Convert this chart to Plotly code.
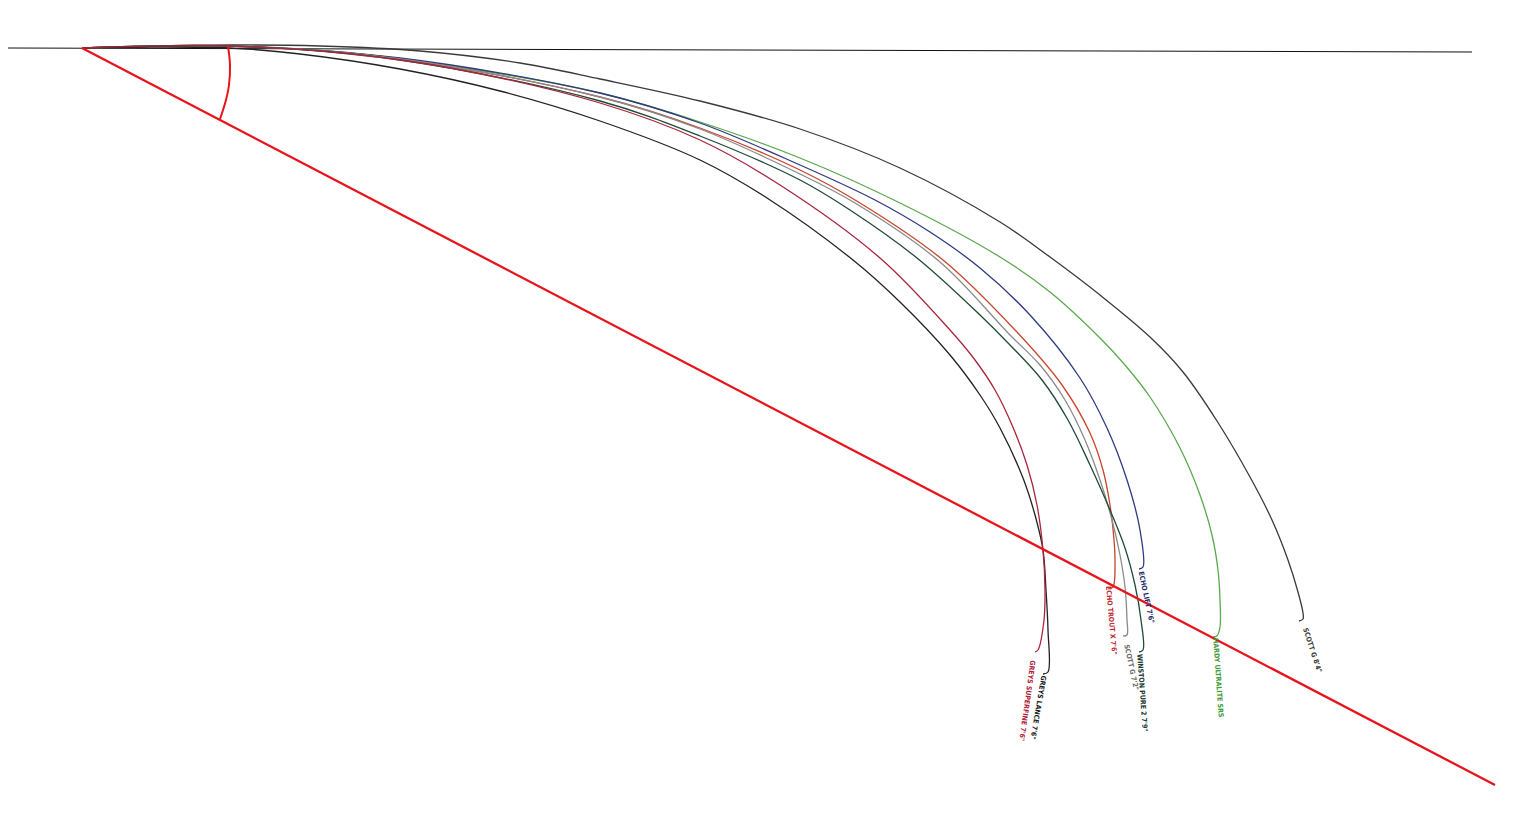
import plotly.graph_objects as go

# ---- data (traced in picture units: x right, y down) ----
rod_names = ["SCOTT G 8'4\"", "HARDY ULTRALITE SRS", "ECHO LIFT 7'6\"", "ECHO TROUT X 7'6\"",
             "SCOTT G 7'2\"", "WINSTON PURE 2 7'9\"", "GREYS LANCE 7'6\"", "GREYS SUPERFINE 7'6\""]

scott84_x = [82, 230, 320, 420, 520, 600, 700, 800, 900, 1000, 1050, 1100, 1150, 1183, 1217, 1250, 1272, 1288, 1298, 1303, 1303, 1299]
scott84_y = [48, 45, 46, 51, 63, 79, 101, 129, 168, 222, 257, 295, 337, 372, 421, 477, 520, 560, 592, 613, 619, 621]

hardy_x = [82, 230, 350, 490, 600, 700, 800, 900, 1000, 1050, 1100, 1125, 1150, 1180, 1200, 1212, 1218, 1220, 1220, 1217, 1213]
hardy_y = [48, 46, 53, 72, 93, 122, 158, 203, 257, 292, 338, 365, 397, 448, 495, 535, 570, 600, 627, 636, 637]

echolift_x = [82, 230, 400, 600, 700, 800, 875, 930, 980, 1030, 1080, 1107, 1127, 1140, 1143, 1139]
echolift_y = [48, 46, 58, 93, 123, 165, 200, 232, 268, 315, 378, 428, 480, 530, 567, 569]

trout_x = [82, 230, 400, 600, 700, 800, 860, 943, 1015, 1062, 1090, 1103, 1110, 1114, 1115, 1113, 1109]
trout_y = [48, 46, 59, 97, 128, 170, 203, 260, 330, 385, 433, 470, 505, 540, 560, 587, 588]

scott72_x = [82, 230, 400, 600, 700, 800, 855, 940, 1010, 1040, 1065, 1085, 1100, 1112, 1120, 1125, 1127, 1127, 1123]
scott72_y = [48, 46, 59, 97, 129, 174, 203, 262, 335, 365, 400, 440, 480, 520, 555, 587, 620, 635, 636]

winston_x = [82, 230, 400, 600, 700, 800, 850, 917, 980, 1010, 1042, 1068, 1090, 1110, 1125, 1135, 1141, 1143, 1139]
winston_y = [48, 46, 60, 101, 136, 180, 210, 258, 315, 345, 380, 420, 465, 510, 548, 585, 620, 650, 652]

lance_x = [82, 150, 230, 300, 400, 500, 600, 700, 767, 853, 900, 950, 980, 1000, 1023, 1035, 1043, 1046, 1048, 1048, 1043]
lance_y = [48, 47, 48, 54, 69, 91, 121, 160, 198, 260, 302, 355, 395, 428, 478, 515, 550, 590, 630, 672, 674]

superfine_x = [82, 230, 350, 450, 600, 700, 780, 880, 950, 975, 995, 1012, 1027, 1037, 1043, 1045, 1044, 1038, 1035]
superfine_y = [48, 46, 54, 68, 103, 140, 185, 258, 330, 360, 390, 425, 465, 505, 550, 590, 620, 650, 652]

label_x = [1312, 1218, 1146, 1111, 1131, 1142, 1038, 1027]
label_y = [650, 678, 597, 620, 667, 693, 707, 700]
label_angle = [72, 86, 78, 85, 78, 86, 100, 98]

baseline_x = [8, 1472]
baseline_y = [48, 52]
red_line_x = [82, 1495]
red_line_y = [48, 785]
arc_x = [228, 230, 229, 226, 223, 220]
arc_y = [46, 65, 85, 100, 110, 119]

# ---- styling ----
colors = ["#3a3a3a", "#5aa84c", "#2e3a82", "#c8442a", "#8a8a8a", "#1f4a36", "#222222", "#a8263c"]
label_colors = ["#3a3a3a", "#3f9a3a", "#1e2a6e", "#c0282e", "#6a6a6a", "#17382a", "#1a1a1a", "#b01e3c"]

curves = [(scott84_x, scott84_y), (hardy_x, hardy_y), (echolift_x, echolift_y), (trout_x, trout_y),
          (scott72_x, scott72_y), (winston_x, winston_y), (lance_x, lance_y), (superfine_x, superfine_y)]

fig = go.Figure()

fig.add_trace(go.Scatter(x=baseline_x, y=baseline_y, mode="lines",
                         line=dict(color="#111111", width=1), hoverinfo="skip", showlegend=False))

for name, (cx, cy), col in zip(rod_names, curves, colors):
    fig.add_trace(go.Scatter(x=cx, y=cy, mode="lines", name=name,
                             line=dict(color=col, width=1.3, shape="spline", smoothing=1.0),
                             showlegend=False))

fig.add_trace(go.Scatter(x=red_line_x, y=red_line_y, mode="lines",
                         line=dict(color="#e8141c", width=2.3), hoverinfo="skip", showlegend=False))
fig.add_trace(go.Scatter(x=arc_x, y=arc_y, mode="lines",
                         line=dict(color="#e8141c", width=2, shape="spline"), hoverinfo="skip", showlegend=False))

for name, lx, ly, ang, col in zip(rod_names, label_x, label_y, label_angle, label_colors):
    fig.add_annotation(x=lx, y=ly, text=name, showarrow=False, textangle=ang,
                       font=dict(family="DejaVu Sans Condensed, DejaVu Sans", size=7, color=col, weight="bold"),
                       xanchor="center", yanchor="middle")

fig.update_layout(
    width=1515, height=830, autosize=False,
    margin=dict(l=0, r=0, t=0, b=0),
    paper_bgcolor="white", plot_bgcolor="white",
    xaxis=dict(range=[0, 1515], visible=False, fixedrange=True),
    yaxis=dict(range=[830, 0], visible=False, fixedrange=True),
)

fig.write_html("out.html", config={"displayModeBar": False},
               post_script="document.body.style.margin='0';document.body.style.padding='0';")
